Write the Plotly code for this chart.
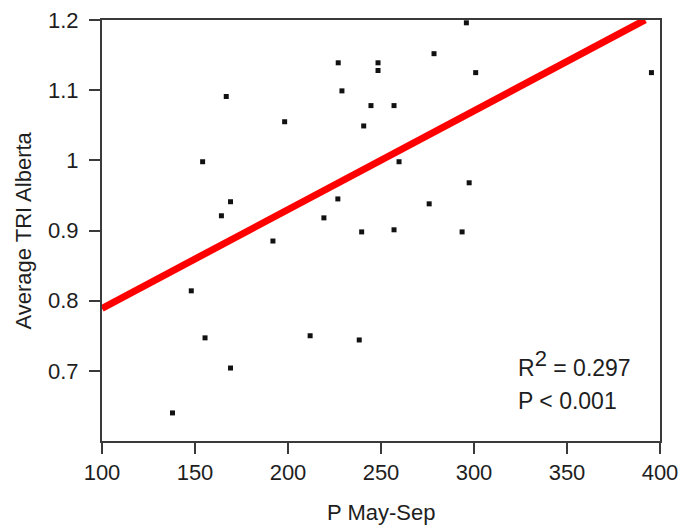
import plotly.graph_objects as go

# Observed data (P May-Sep vs Average TRI Alberta)
p_may_sep = [227.0, 229.0, 166.8, 198.2, 154.1, 169.1, 164.2, 226.8, 219.3, 191.9,
             295.9, 278.5, 248.4, 248.4, 300.9, 395.4, 244.6, 257.0, 240.7, 259.7,
             297.4, 275.9, 239.6, 257.0, 293.6, 148.0, 155.4, 169.1, 137.9, 211.9,
             238.3]
tri_alberta = [1.139, 1.099, 1.091, 1.055, 0.998, 0.941, 0.921, 0.945, 0.918, 0.885,
               1.196, 1.152, 1.139, 1.128, 1.125, 1.125, 1.078, 1.078, 1.049, 0.998,
               0.968, 0.938, 0.898, 0.901, 0.898, 0.814, 0.747, 0.704, 0.640, 0.750,
               0.744]

# Regression line
fit_intercept = 0.6482
fit_slope = 0.001408
fit_x = [100, 392]
fit_y = [fit_intercept + fit_slope * v for v in fit_x]

# Axis ticks
x_ticks = [100, 150, 200, 250, 300, 350, 400]
y_ticks = [0.7, 0.8, 0.9, 1.0, 1.1, 1.2]
y_ticktext = ["0.7", "0.8", "0.9", "1", "1.1", "1.2"]

x_title = "P May-Sep"
y_title = "Average TRI Alberta"
stats_r2 = "R<sup><span style='font-size:22px'>2</span></sup> = 0.297"
stats_p = "P &lt; 0.001"

axis_color = "#3a3a3a"
text_color = "#1e1e1e"
font_family = "Liberation Sans, Arial, sans-serif"
fs = 22

fig = go.Figure()
fig.add_trace(go.Scatter(x=fit_x, y=fit_y, mode="lines",
                         line=dict(color="#ff0000", width=7), hoverinfo="skip"))
fig.add_trace(go.Scatter(x=p_may_sep, y=tri_alberta, mode="markers",
                         marker=dict(color="#111111", size=5, symbol="square")))

fig.add_annotation(x=322.5, y=0.711, xref="x", yref="y", text=stats_r2,
                   showarrow=False, xanchor="left", yanchor="middle", align="left",
                   font=dict(size=23, color=text_color, family=font_family))
fig.add_annotation(x=322.5, y=0.657, xref="x", yref="y", text=stats_p,
                   showarrow=False, xanchor="left", yanchor="middle", align="left",
                   font=dict(size=23, color=text_color, family=font_family))

# Axis titles
fig.add_annotation(x=0.5, y=0, xref="paper", yref="paper", yshift=-71,
                   text=x_title, showarrow=False, xanchor="center", yanchor="middle",
                   font=dict(size=fs, color=text_color, family=font_family))
fig.add_annotation(x=0, y=0.5, xref="paper", yref="paper", xshift=-79,
                   text=y_title, textangle=-90, showarrow=False,
                   xanchor="center", yanchor="middle",
                   font=dict(size=fs, color=text_color, family=font_family))

fig.update_layout(
    width=680, height=529,
    margin=dict(l=102, r=20, t=20, b=88),
    plot_bgcolor="white", paper_bgcolor="white",
    showlegend=False,
    font=dict(family=font_family, size=fs, color=text_color),
    xaxis=dict(range=[100, 400], tickvals=x_ticks, showgrid=False, zeroline=False,
               showline=True, linecolor=axis_color, linewidth=2, mirror=True,
               ticks="outside", ticklen=11, tickwidth=2, tickcolor=axis_color,
               automargin=False,
               tickfont=dict(size=fs, color=text_color)),
    yaxis=dict(range=[0.6, 1.2], tickvals=y_ticks, ticktext=y_ticktext, showgrid=False,
               zeroline=False, showline=True, linecolor=axis_color, linewidth=2, mirror=True,
               ticks="outside", ticklen=11, tickwidth=2, tickcolor=axis_color,
               ticklabelstandoff=6, automargin=False,
               tickfont=dict(size=fs, color=text_color)),
)

fig.write_html("out.html")
